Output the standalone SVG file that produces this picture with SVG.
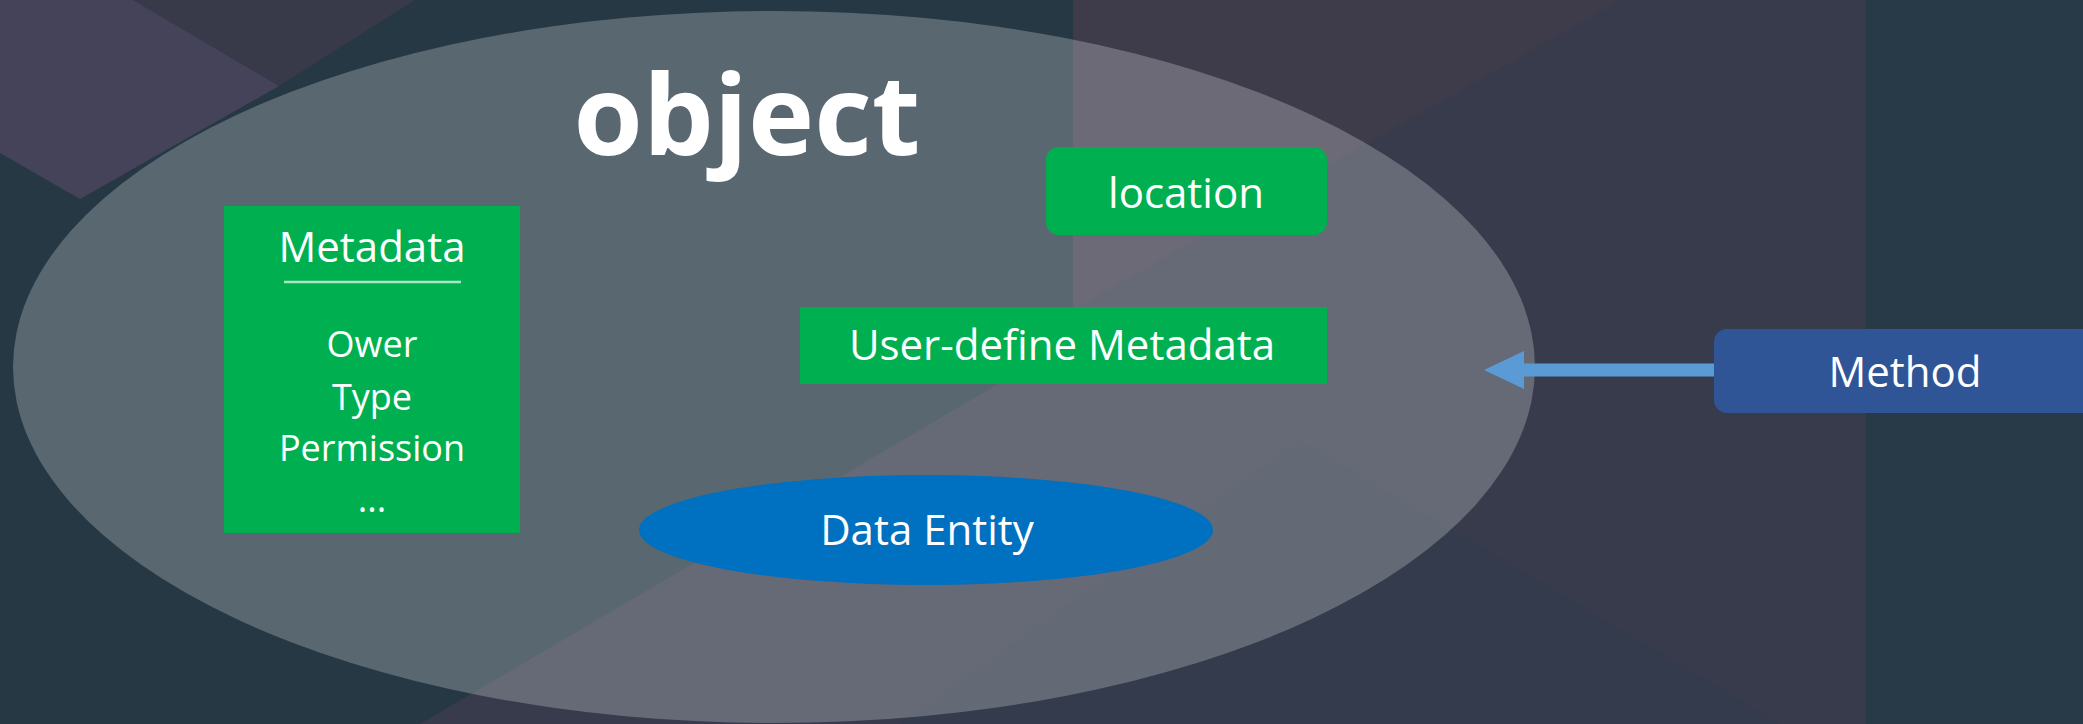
<svg xmlns="http://www.w3.org/2000/svg" width="2083" height="724" viewBox="0 0 2083 724">
  <style>
    .lbl { font-family: "Open Sans", "Liberation Sans", sans-serif; font-size: 42px; fill: #ffffff; text-anchor: middle; }
    .item { font-family: "Open Sans", "Liberation Sans", sans-serif; font-size: 36px; fill: #ffffff; text-anchor: middle; }
    .title { font-family: "Open Sans", "Liberation Sans", sans-serif; font-size: 112px; font-weight: bold; fill: #ffffff; text-anchor: middle; }
    .green { fill: #00b050; }
  </style>
  <defs>
    <marker id="head" markerUnits="userSpaceOnUse" markerWidth="40" markerHeight="40" viewBox="0 0 40 40" refX="0" refY="20" orient="auto">
      <path d="M0,1 L40,20 L0,39 Z" fill="#5b9bd5"/>
    </marker>
  </defs>

  <g id="background">
    <rect x="0" y="0" width="2083" height="724" fill="#373b4b"/>
    <polygon points="0,0 1073,0 1073,340 420,724 0,724" fill="#263844"/>
    <polygon points="133,0 415,0 279,86" fill="#383a4a"/>
    <polygon points="0,0 133,0 279,86 80,199 0,153" fill="#45435a"/>
    <polygon points="1073,0 1621,0 1090,300 1073,310" fill="#3e3c4b"/>
    <polygon points="1300,440 1779,724 900,724" fill="#343b4c"/>
    <rect x="1866" y="0" width="217" height="724" fill="#283a47"/>
  </g>

  <g id="object">
    <ellipse cx="774" cy="367" rx="761" ry="356" fill="#ffffff" fill-opacity="0.24"/>
    <text class="title" x="747" y="155">object</text>
  </g>

  <g id="metadata">
    <rect class="green" x="224" y="206" width="296" height="327"/>
    <text class="lbl" x="372" y="262">Metadata</text>
    <line x1="284" y1="282" x2="461" y2="282" stroke="#a8e6bf" stroke-width="2.5"/>
    <text class="item" x="372" y="357">Ower</text>
    <text class="item" x="372" y="410">Type</text>
    <text class="item" x="372" y="461">Permission</text>
    <text class="item" x="372" y="512">...</text>
  </g>

  <g id="location">
    <rect class="green" x="1046" y="147" width="281" height="88" rx="13" ry="13"/>
    <text class="lbl" x="1186" y="208">location</text>
  </g>

  <g id="user-define-metadata">
    <rect class="green" x="800" y="307" width="527" height="77"/>
    <text class="lbl" x="1062" y="360">User-define Metadata</text>
  </g>

  <g id="data-entity">
    <ellipse cx="926" cy="530" rx="287" ry="55" fill="#0070c0"/>
    <text class="lbl" x="927" y="545">Data Entity</text>
  </g>

  <g id="method">
    <rect x="1714" y="329" width="390" height="84" rx="13" ry="13" fill="#2f5597"/>
    <text class="lbl" x="1905" y="387">Method</text>
  </g>

  <g id="connectors">
    <line x1="1714" y1="370" x2="1524" y2="370" stroke="#5b9bd5" stroke-width="13" marker-end="url(#head)"/>
  </g>
</svg>
